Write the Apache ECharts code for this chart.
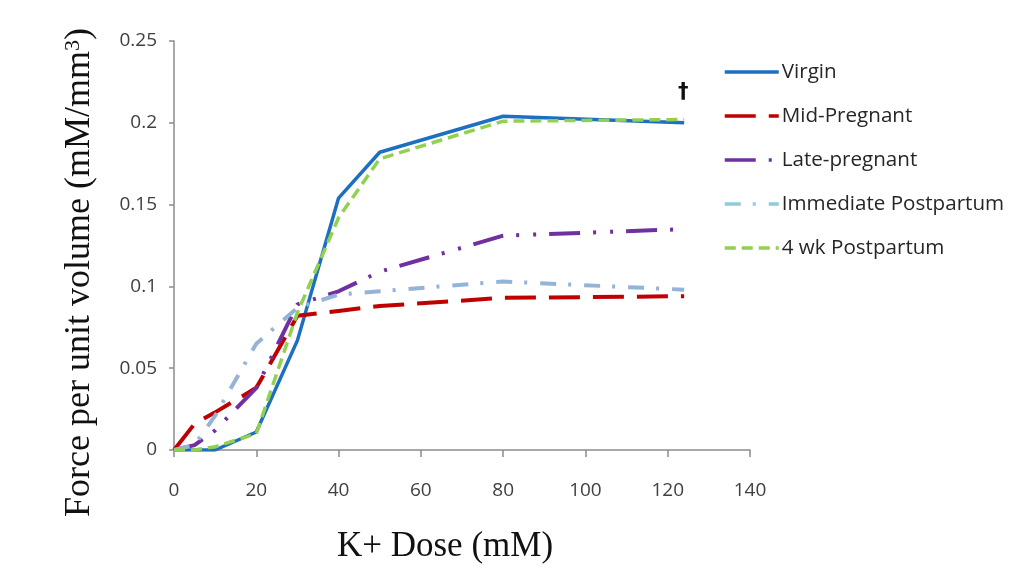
<!DOCTYPE html>
<html>
<head>
<meta charset="utf-8">
<script src="https://cdn.jsdelivr.net/npm/echarts@6/dist/echarts.min.js"></script>
<style>
  html, body { margin: 0; padding: 0; background: #ffffff; }
  #chart { width: 1021px; height: 576px; }
</style>
</head>
<body>
<div id="chart"></div>
<script>
// K+ dose (mM) at which force was measured
const doses = [0, 5, 10, 20, 30, 40, 50, 80, 124];

// Force per unit volume (mM/mm^3) for each group
const virgin       = [0, 0, 0, 0.011, 0.067, 0.154, 0.182, 0.204, 0.200];
const midPregnant  = [0, 0.016, 0.023, 0.038, 0.082, 0.085, 0.088, 0.093, 0.094];
const latePregnant = [0, 0.003, 0.012, 0.038, 0.089, 0.097, 0.109, 0.131, 0.135];
const immediatePP  = [0, 0.003, 0.021, 0.065, 0.087, 0.095, 0.097, 0.103, 0.098];
const fourWeekPP   = [0, 0, 0.002, 0.010, 0.084, 0.142, 0.178, 0.201, 0.202];

const seriesNames = ['Virgin', 'Mid-Pregnant', 'Late-pregnant', 'Immediate Postpartum', '4 wk Postpartum'];
const xTicks = { min: 0, max: 140, interval: 20 };
const yTicks = { min: 0, max: 0.25, interval: 0.05 };

const pairs = (ys) => doses.map((d, i) => [d, ys[i]]);

const chart = echarts.init(document.getElementById('chart'));

function lineSeries(name, points, color, width, dash) {
  return {
    name: name,
    type: 'line',
    data: points,
    symbol: 'none',
    smooth: false,
    lineStyle: { color: color, width: width, type: dash || 'solid', cap: 'butt' },
    itemStyle: { color: color },
    emphasis: { disabled: true }
  };
}

// Virgin curve carries a dagger over its final dose
const virginPoints = pairs(virgin);
const last = virginPoints.length - 1;
virginPoints[last] = {
  value: virginPoints[last],
  symbol: 'circle',
  symbolSize: 0.1,
  label: {
    show: true,
    position: 'top',
    formatter: '\u2020',
    color: '#111111',
    fontSize: 21,
    fontWeight: 'bold',
    fontFamily: 'DejaVu Sans',
    distance: 20,
    offset: [-1, 0]
  }
};

const labelFont = 'Open Sans';
const legendLine = (extra) => Object.assign({ width: 3.5 }, extra || {});

chart.setOption({
  animation: false,
  backgroundColor: '#ffffff',
  grid: { left: 174, right: 271, top: 41, bottom: 126, containLabel: false },
  legend: {
    orient: 'vertical',
    left: 723,
    top: 61,
    padding: 0,
    itemWidth: 54,
    itemHeight: 14,
    itemGap: 22,
    itemStyle: { opacity: 0 },
    textStyle: { fontFamily: 'Open Sans', fontSize: 20.6, color: '#262626', lineHeight: 22, padding: [0, 0, 0, -2] },
    data: [
      { name: seriesNames[0], lineStyle: legendLine() },
      { name: seriesNames[1], lineStyle: legendLine() },
      { name: seriesNames[2], lineStyle: legendLine() },
      { name: seriesNames[3], lineStyle: legendLine({ color: '#8ecbe0' }) },
      { name: seriesNames[4], lineStyle: legendLine() }
    ]
  },
  xAxis: {
    type: 'value',
    min: xTicks.min, max: xTicks.max, interval: xTicks.interval,
    name: 'K+ Dose (mM)',
    nameLocation: 'middle',
    nameGap: 79,
    nameTextStyle: { fontFamily: 'Liberation Serif', fontSize: 35, color: '#111111', padding: [0, 34, 0, 0] },
    axisLine: { show: true, lineStyle: { color: '#8c8c8c', width: 1.5 } },
    axisTick: { show: true, inside: false, length: 7, lineStyle: { color: '#8c8c8c', width: 1.5 } },
    axisLabel: { margin: 31, fontFamily: labelFont, fontSize: 19, color: '#404040' },
    splitLine: { show: false }
  },
  yAxis: {
    type: 'value',
    min: yTicks.min, max: yTicks.max, interval: yTicks.interval,
    name: '{a|Force per unit volume (mM/mm}{s|3}{a|)}',
    nameLocation: 'middle',
    nameGap: 76,
    nameTextStyle: {
      padding: [0, 54, 0, 0],
      rich: {
        a: { fontFamily: 'Liberation Serif', fontSize: 36, color: '#111111' },
        s: { fontFamily: 'Liberation Serif', fontSize: 22, color: '#111111', verticalAlign: 'top', padding: [0, 0, 12, 0] }
      }
    },
    axisLine: { show: true, lineStyle: { color: '#8c8c8c', width: 1.5 } },
    axisTick: { show: true, inside: false, length: 5, lineStyle: { color: '#8c8c8c', width: 1.5 } },
    axisLabel: { margin: 17, fontFamily: labelFont, fontSize: 19, color: '#404040' },
    splitLine: { show: false }
  },
  series: [
    lineSeries(seriesNames[0], virginPoints, '#1c6fc1', 3.5),
    lineSeries(seriesNames[1], pairs(midPregnant), '#c00000', 4, [31, 13]),
    lineSeries(seriesNames[2], pairs(latePregnant), '#7030a0', 4, [31, 13, 3, 14, 3, 13]),
    lineSeries(seriesNames[3], pairs(immediatePP), '#95b3d7', 4, [16, 12, 3, 13]),
    lineSeries(seriesNames[4], pairs(fourWeekPP), '#92d050', 3.5, [11, 6])
  ]
});
</script>
</body>
</html>
